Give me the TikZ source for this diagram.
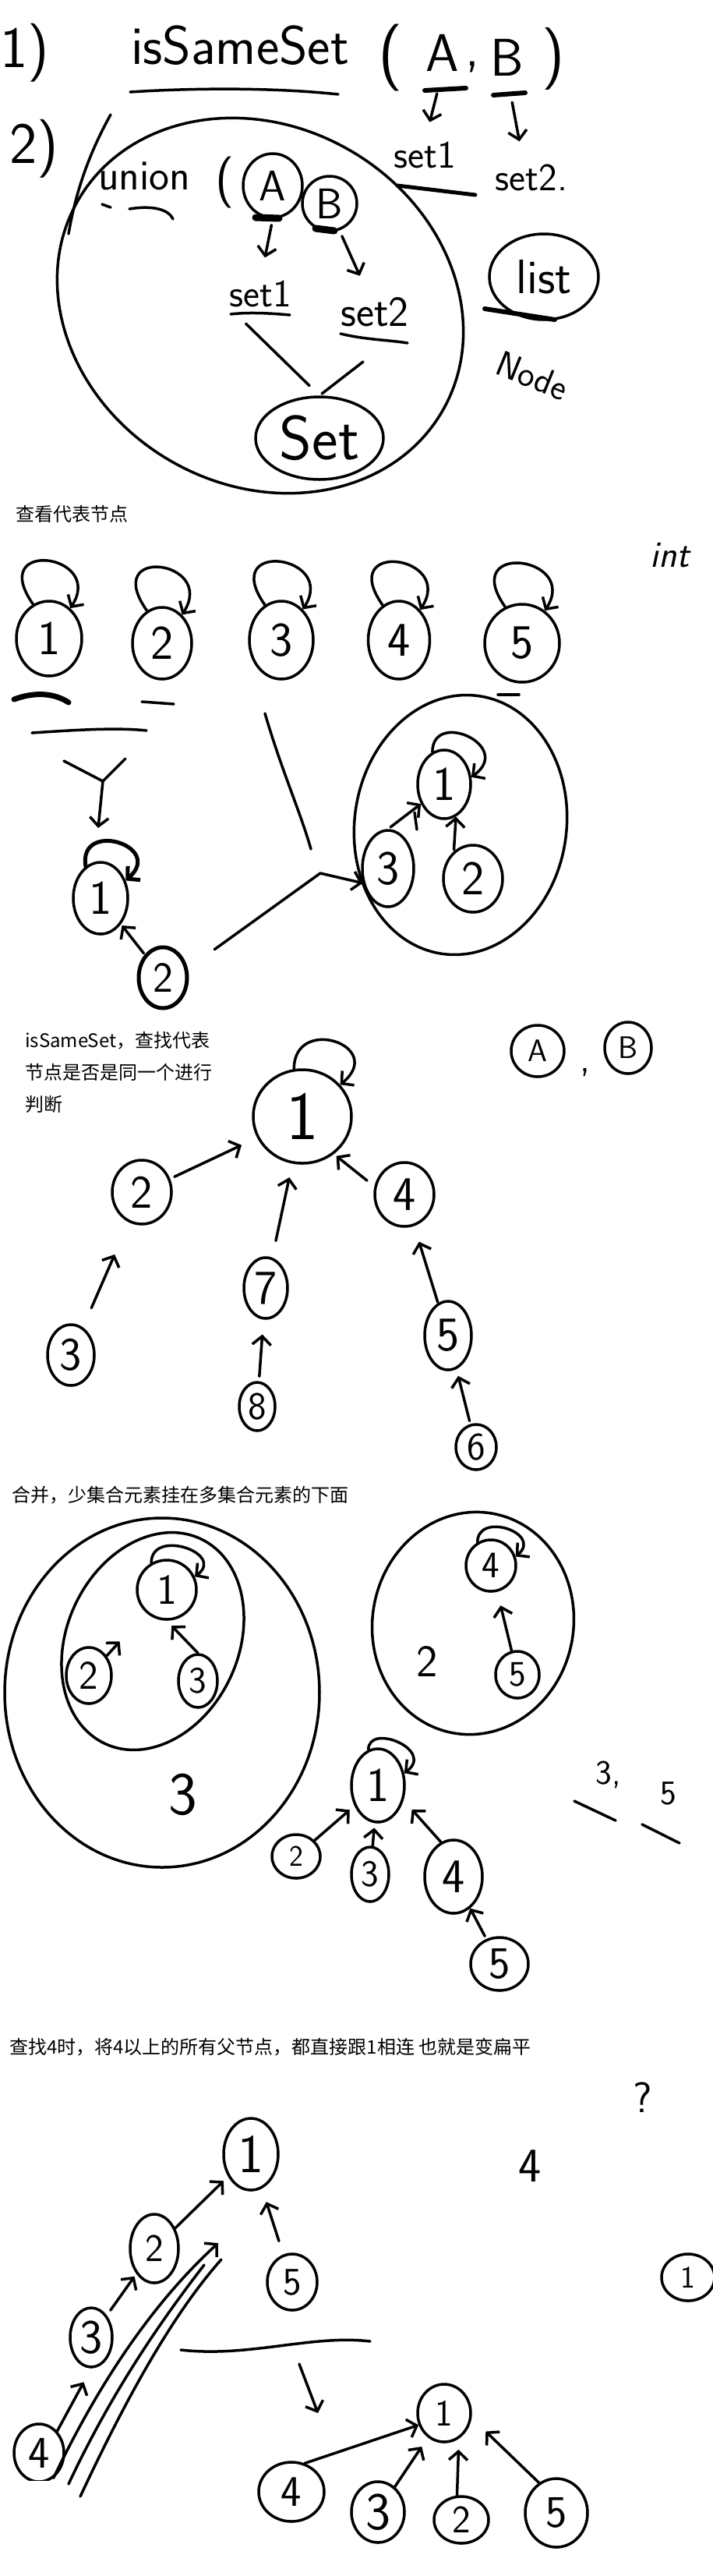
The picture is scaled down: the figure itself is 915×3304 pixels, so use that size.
\documentclass[tikz,border=0pt]{standalone}
\usepackage{fontspec}
\newfontfamily\cjkf{Noto Sans CJK SC}
\usetikzlibrary{arrows.meta,shapes.geometric}
\newcommand\fsz[1]{\fontsize{#1}{#1}\selectfont}
\begin{document}
\begin{tikzpicture}[x=1pt,y=-1pt,
  hand/.style={line width=3.5pt, line cap=round, line join=round},
  arr/.style={hand, -{Straight Barb[length=11pt,width=24pt]}},
  txt/.style={inner sep=0pt, font=\sffamily\fsz{#1}},
  nd/.style={draw, ellipse, hand, inner sep=0pt, font=\sffamily\fsz{#1}},
  sz/.style 2 args={minimum width=#1pt, minimum height=#2pt},
  captxt/.style={anchor=west, inner sep=0pt, font=\cjkf\fsz{24}},
]
\fill[white] (0,0) rectangle (915,3304);
\useasboundingbox (0,0) rectangle (915,3304);

% ---------------- section 1 ----------------
\node[txt=75] (one) at (32,68) {1)};
\node[txt=70] (iss) at (308,58) {isSameSet};
\draw[hand] (167,118) .. controls (260,112) and (360,113) .. (434,121);
\node[txt=86] (lpa) at (501,74) {(};
\node[txt=68] (ta) at (568,68) {A};
\node[txt=68] (tcm) at (606,86) {,};
\node[txt=68] (tb) at (651,74) {B};
\node[txt=80] (rpb) at (710,76) {)};
\draw[hand, line width=6pt] (545,116) -- (598,113);
\draw[hand, line width=6pt] (633,122) -- (674,119);
\node[txt=50] (ts1) at (545,199) {set1};
\node[txt=50] (ts2) at (682,228) {set2.};
\draw[arr, shorten <=29pt, shorten >=26pt] (ta.south) -- (ts1.north);
\draw[arr, shorten <=34pt, shorten >=30pt] (tb.south) -- (ts2.120);
\draw[hand, line width=5pt] (510,238) -- (610,250);

\node[txt=75] (two) at (44,191) {2)};
\draw[hand] (142,147) .. controls (118,190) and (98,240) .. (88,300);
\node[draw, ellipse, hand, sz={540}{460}, rotate=-30] (big) at (334,392) {};
\node[txt=55] (un) at (185,226) {union};
\draw[hand] (131,262) -- (142,266);
\draw[hand] (166,268) .. controls (190,264) and (215,266) .. (222,281);
\node[txt=66] (lpu) at (289,234) {(};
\node[nd=55, sz={76}{82}] (ca) at (350,238) {A};
\node[nd=55, sz={70}{70}] (cb) at (423,261) {B};
\draw[line width=9pt, line cap=round] (328,279) -- (358,280);
\draw[line width=9pt, line cap=round] (405,293) -- (429,296);
\node[txt=50] (is1) at (334,377) {set1};
\node[txt=55] (is2) at (481,400) {set2};
\draw[hand] (296,403) .. controls (320,400) and (350,402) .. (372,404);
\draw[hand] (437,428) .. controls (470,436) and (500,436) .. (523,440);
\draw[arr, shorten <=8pt, shorten >=30pt] (ca.south) -- (is1.north);
\draw[arr, shorten <=8pt, shorten >=30pt] (cb.290) -- (is2.110);
\node[nd=80, sz={164}{106}] (set) at (410,562) {Set};
\draw[hand, shorten <=30pt, shorten >=18pt] (is1.south west) -- (set.north);
\draw[hand] (466,464) -- (413,505);
\node[nd=62, sz={140}{110}] (lst) at (698,355) {list};
\draw[hand, line width=6pt] (622,396) -- (712,410);
\node[txt=46, rotate=-22] (nde) at (683,482) {Node};

% ---------------- section 2 ----------------
\node[captxt] (c2) at (20,659) {查看代表节点};
\node[inner sep=0pt, font=\sffamily\itshape\fsz{48}] (int) at (860,712) {int};
\foreach \nn/\xx/\yy/\ww/\hh in {1/63/819/84/96, 2/208/825/76/92, 3/361/821/82/100, 4/512/821/79/100, 5/670/825/96/100} {
  \node[nd=62, sz={\ww}{\hh}] (a\nn) at (\xx,\yy) {\nn};
  \draw[arr] (a\nn.115) .. controls +(-60,-85) and +(45,-70) .. (a\nn.55);
}
\draw[hand, line width=7pt] (18,897) .. controls (45,887) and (70,889) .. (88,901);
\draw[hand] (182,900) -- (223,903);
\draw[hand] (639,891) -- (666,891);
\draw[hand] (41,940) .. controls (100,936) and (150,933) .. (188,937);
\draw[hand] (82,976) -- (132,1002) -- (161,973);
\coordinate (ystem) at (132,1002);
\coordinate (yend) at (126,1062);
\draw[arr] (ystem) -- (yend);
\node[nd=62, sz={70}{92}] (b1) at (129,1152) {1};
\draw[arr, line width=5pt] (b1.115) .. controls +(-10,-60) and +(50,-45) .. (b1.35);
\node[nd=55, sz={62}{78}, line width=5pt] (b2) at (209,1254) {2};
\draw[arr, shorten <=2pt, shorten >=2pt] (b2) -- (b1);

\node[draw, ellipse, hand, sz={272}{334}, rotate=-8] (grp) at (591,1058) {};
\node[nd=62, sz={68}{88}] (c1) at (570,1006) {1};
\node[nd=62, sz={66}{98}] (c3) at (498,1114) {3};
\node[nd=62, sz={76}{86}] (c2n) at (607,1127) {2};
\draw[arr] (c1.110) .. controls +(0,-55) and +(55,-40) .. (c1.15);
\draw[arr, shorten <=4pt] (c3.north) -- (c1.220);
\draw[hand] (535,1064) -- (532,1042);
\draw[arr, shorten <=2pt] (c2n.125) -- (c1.290);
\coordinate (kink) at (411,1120);
\draw[arr, shorten <=42pt] (b2.20) -- (kink) -- (c3.210);
\draw[hand] (340,915) .. controls (362,990) and (385,1040) .. (399,1089);

% ---------------- section 3 ----------------
\node[captxt] (c3a) at (32,1335) {isSameSet，查找代表};
\node[captxt] (c3b) at (32,1375) {节点是否是同一个进行};
\node[captxt] (c3c) at (32,1416) {判断};
\node[nd=88, sz={126}{120}] (r1) at (388,1432) {1};
\draw[arr] (r1.100) .. controls +(0,-70) and +(60,-50) .. (r1.40);
\node[nd=60, sz={76}{82}] (q2) at (182,1529) {2};
\node[nd=62, sz={56}{78}] (q7) at (341,1652) {7};
\node[nd=62, sz={76}{82}] (q4) at (519,1532) {4};
\node[nd=60, sz={60}{78}] (q3) at (91,1738) {3};
\node[nd=50, sz={46}{62}] (q8) at (330,1804) {8};
\node[nd=62, sz={60}{88}] (q5) at (575,1713) {5};
\node[nd=50, sz={52}{58}] (q6) at (611,1856) {6};
\draw[arr, shorten <=6pt, shorten >=22pt] (q2) -- (r1);
\draw[arr, shorten <=22pt, shorten >=18pt] (q7) -- (r1);
\draw[arr, shorten <=12pt, shorten >=4pt] (q4.165) -- (r1.310);
\draw[arr, shorten <=27pt, shorten >=45pt] (q3) -- (q2);
\draw[arr, shorten <=6pt, shorten >=19pt] (q8) -- (q7);
\draw[arr, shorten <=1pt, shorten >=21pt] (q5) -- (q4);
\draw[arr, shorten <=4pt, shorten >=9pt] (q6) -- (q5);
\node[nd=40, sz={68}{66}] (qa) at (690,1348) {A};
\node[txt=50] (qc) at (751,1376) {,};
\node[nd=40, sz={60}{66}] (qb) at (806,1344) {B};

% ---------------- section 4 ----------------
\node[captxt] (c4) at (15,1918) {合并，少集合元素挂在多集合元素的下面};
\node[draw, ellipse, hand, sz={404}{448}] (e3) at (208,2171) {};
\node[draw, ellipse, hand, sz={220}{290}, rotate=-25] (e3i) at (196,2105) {};
\node[nd=55, sz={76}{76}] (u1) at (214,2039) {1};
\node[nd=52, sz={58}{72}] (u2) at (114,2149) {2};
\node[nd=48, sz={50}{68}] (u3) at (254,2156) {3};
\draw[arr] (u1.120) .. controls +(0,-45) and +(40,-30) .. (u1.25);
\draw[arr, shorten >=50pt] (u2) -- (u1);
\draw[arr, shorten >=9pt] (u3.north) -- (u1.south);
\node[txt=78] (l3) at (235,2302) {3};
\node[draw, ellipse, hand, sz={258}{286}, rotate=-10] (e2) at (607,2082) {};
\node[nd=48, sz={64}{66}] (v4) at (630,2008) {4};
\node[nd=46, sz={56}{60}] (v5) at (664,2148) {5};
\draw[arr] (v4.120) .. controls +(0,-40) and +(35,-30) .. (v4.20);
\draw[arr, shorten >=18pt] (v5) -- (v4);
\node[txt=58] (l2) at (548,2131) {2};
\node[nd=62, sz={68}{94}] (w1) at (485,2290) {1};
\draw[arr] (w1.105) .. controls +(0,-35) and +(40,-30) .. (w1.25);
\node[nd=38, sz={62}{56}] (w2) at (380,2381) {2};
\node[nd=48, sz={48}{70}] (w3) at (475,2404) {3};
\node[nd=62, sz={74}{94}] (w4) at (582,2407) {4};
\node[nd=58, sz={74}{68}] (w5) at (641,2519) {5};
\draw[arr, shorten >=8pt] (w2) -- (w1);
\draw[arr, shorten >=6pt] (w3) -- (w1);
\draw[arr, shorten >=16pt] (w4.110) -- (w1.330);
\draw[arr, shorten <=4pt] (w5) -- (w4);
\node[txt=44] (n35a) at (781,2276) {3,};
\node[txt=44] (n35b) at (858,2300) {5};
\draw[hand] (737,2310) -- (790,2335);
\draw[hand] (824,2340) -- (872,2364);

% ---------------- section 5 ----------------
\node[captxt] (c5) at (12,2626) {查找4时，将4以上的所有父节点，都直接跟1相连 也就是变扁平};
\node[nd=70, sz={70}{92}] (x1) at (322,2763) {1};
\node[nd=50, sz={62}{88}] (x2) at (198,2884) {2};
\node[nd=50, sz={64}{72}] (x5) at (375,2927) {5};
\node[nd=62, sz={54}{76}] (x3) at (117,2998) {3};
\node[nd=58, sz={64}{74}] (x4) at (50,3146) {4};
\draw[arr, shorten >=8pt] (x2) -- (x1);
\draw[arr, shorten <=18pt, shorten >=18pt] (x5) -- (x1);
\draw[arr, shorten <=8pt, shorten >=4pt] (x3) -- (x2);
\draw[arr, shorten >=20pt] (x4.50) -- (x3.south);
\coordinate (lt) at (280,2877);
\draw[arr] (x4.300) .. controls (130,3050) and (200,2950) .. (lt);
\draw[hand] (103,3202) .. controls (160,3080) and (220,2970) .. (284,2898);
\draw[hand] (88,3186) .. controls (140,3075) and (200,2985) .. (262,2905);
\fill[white] (0,3182) rectangle (70,3257);
\draw[hand] (232,3014) .. controls (320,3024) and (400,2994) .. (475,3003);
\draw[arr] (384,3032) -- (408,3095);
\node[nd=48, sz={68}{74}] (y1) at (570,3095) {1};
\node[nd=56, sz={84}{76}] (y4) at (374,3196) {4};
\node[nd=68, sz={68}{78}] (y3) at (485,3222) {3};
\node[nd=50, sz={70}{60}] (y2) at (592,3232) {2};
\node[nd=58, sz={80}{88}] (y6) at (714,3223) {5};
\draw[arr] (y4.65) -- (y1.205);
\draw[arr, shorten >=14pt] (y3) -- (y1);
\draw[arr, shorten >=14pt] (y2.100) -- (y1.300);
\draw[arr, shorten >=25pt] (y6.120) -- (y1.350);
\node[txt=55] (qm) at (825,2690) {?};
\node[txt=62] (f4) at (680,2778) {4};
\node[nd=40, sz={68}{60}] (z1) at (883,2921) {1};
\end{tikzpicture}
\end{document}
